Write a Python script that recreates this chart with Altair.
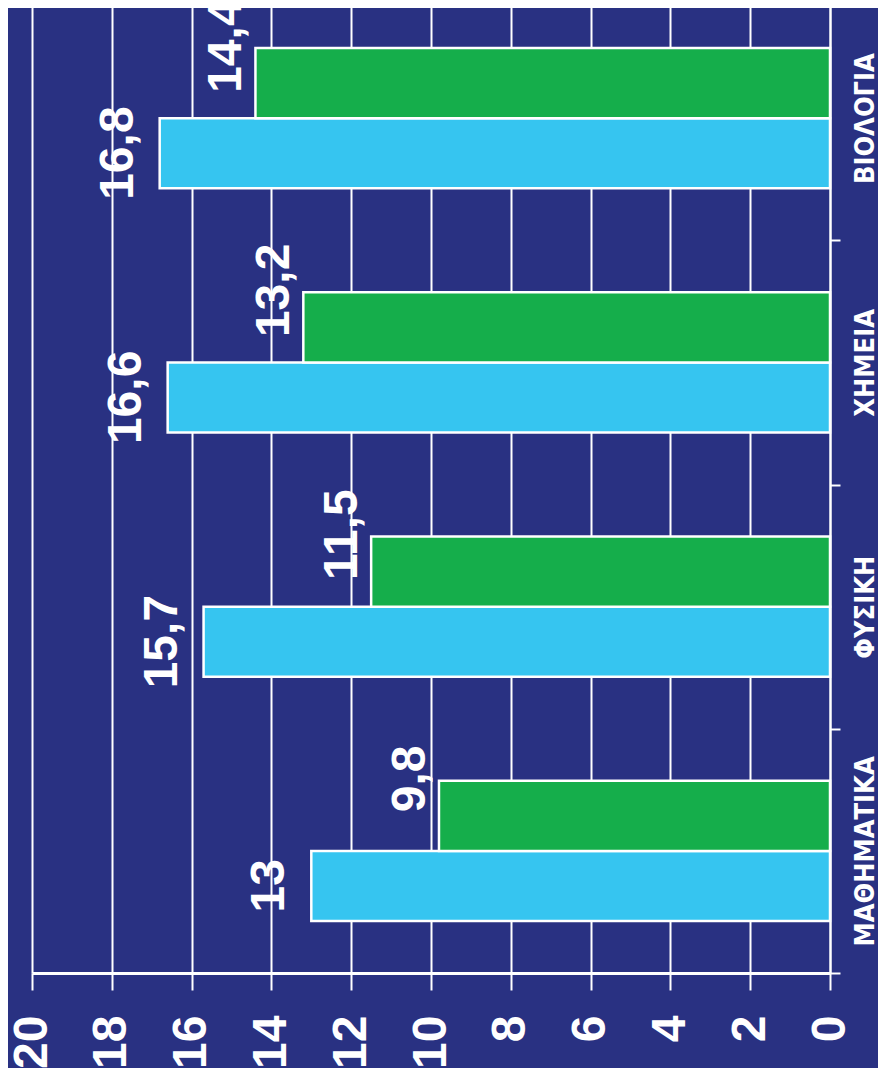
import altair as alt
import pandas as pd

categories = ["ΒΙΟΛΟΓΙΑ", "ΧΗΜΕΙΑ", "ΦΥΣΙΚΗ", "ΜΑΘΗΜΑΤΙΚΑ"]
series_names = ["Σειρά Β", "Σειρά Α"]  # green (upper), cyan (lower)
cyan_values = [16.8, 16.6, 15.7, 13]
green_values = [14.4, 13.2, 11.5, 9.8]
x_ticks = [0, 2, 4, 6, 8, 10, 12, 14, 16, 18, 20]

rows = []
for c, v in zip(categories, cyan_values):
    rows.append({"cat": c, "series": series_names[1], "value": v})
for c, v in zip(categories, green_values):
    rows.append({"cat": c, "series": series_names[0], "value": v})
df = pd.DataFrame(rows)

BG = "#293182"
CYAN = "#36C5F0"
GREEN = "#15AE4B"

x_enc = alt.X(
    "value:Q",
    scale=alt.Scale(domain=[0, 20], reverse=True, nice=False, zero=True),
    axis=alt.Axis(
        values=x_ticks, title=None, grid=True, gridColor="white", gridWidth=2,
        gridOpacity=1, domainColor="white", domainWidth=3, tickColor="white",
        tickWidth=2, tickSize=17, labelAngle=270, labelAlign="right",
        labelBaseline="middle", labelPadding=25, labelFont="Liberation Sans",
        labelFontWeight="bold", labelFontSize=48, labelColor="white",
        labelFlush=False, labelOverlap=False,
    ),
)
y_enc = alt.Y(
    "cat:N",
    sort=categories,
    scale=alt.Scale(domain=categories, paddingInner=0, paddingOuter=0),
    axis=alt.Axis(
        orient="right", title=None, grid=False, domainColor="white",
        domainWidth=2, tickColor="white", tickWidth=2, tickSize=10,
        tickBand="extent", labelAngle=270, labelAlign="center",
        labelBaseline="top", labelPadding=12,
        labelFont="DejaVu Sans Condensed, Liberation Sans Narrow, DejaVu Sans",
        labelFontWeight="bold", labelFontSize=27, labelColor="white",
        labelLimit=0,
    ),
)
yoff = alt.YOffset(
    "series:N",
    scale=alt.Scale(domain=series_names, paddingInner=0, paddingOuter=0.7446),
)

bars = alt.Chart(df).mark_bar(stroke="white", strokeWidth=2.5).encode(
    x=x_enc,
    y=y_enc,
    yOffset=yoff,
    color=alt.Color(
        "series:N",
        scale=alt.Scale(domain=series_names, range=[GREEN, CYAN]),
        legend=None,
    ),
)

label_base = alt.Chart(df).transform_calculate(
    label="replace(toString(datum.value), '.', ',')"
)

cyan_labels = label_base.transform_filter(
    alt.datum.series == series_names[1]
).mark_text(
    angle=270, align="center", baseline="alphabetic", dy=-27, dx=0,
    font="Liberation Sans", fontWeight="bold", fontSize=48, color="white",
).encode(x="value:Q", y=alt.Y("cat:N", sort=categories), yOffset=yoff, text="label:N")

green_labels = label_base.transform_filter(
    alt.datum.series == series_names[0]
).mark_text(
    angle=270, align="center", baseline="alphabetic", dy=-14, dx=37,
    font="Liberation Sans", fontWeight="bold", fontSize=48, color="white",
).encode(x="value:Q", y=alt.Y("cat:N", sort=categories), yOffset=yoff, text="label:N")

chart = alt.layer(bars, cyan_labels, green_labels).properties(
    width=798,
    height=977,
    background=BG,
    padding={"left": 24, "top": -12, "right": 48, "bottom": 95},
    autosize=alt.AutoSizeParams(type="none"),
).configure_view(stroke=None)

chart.save("out.html", embed_options={"renderer": "svg", "actions": False})
